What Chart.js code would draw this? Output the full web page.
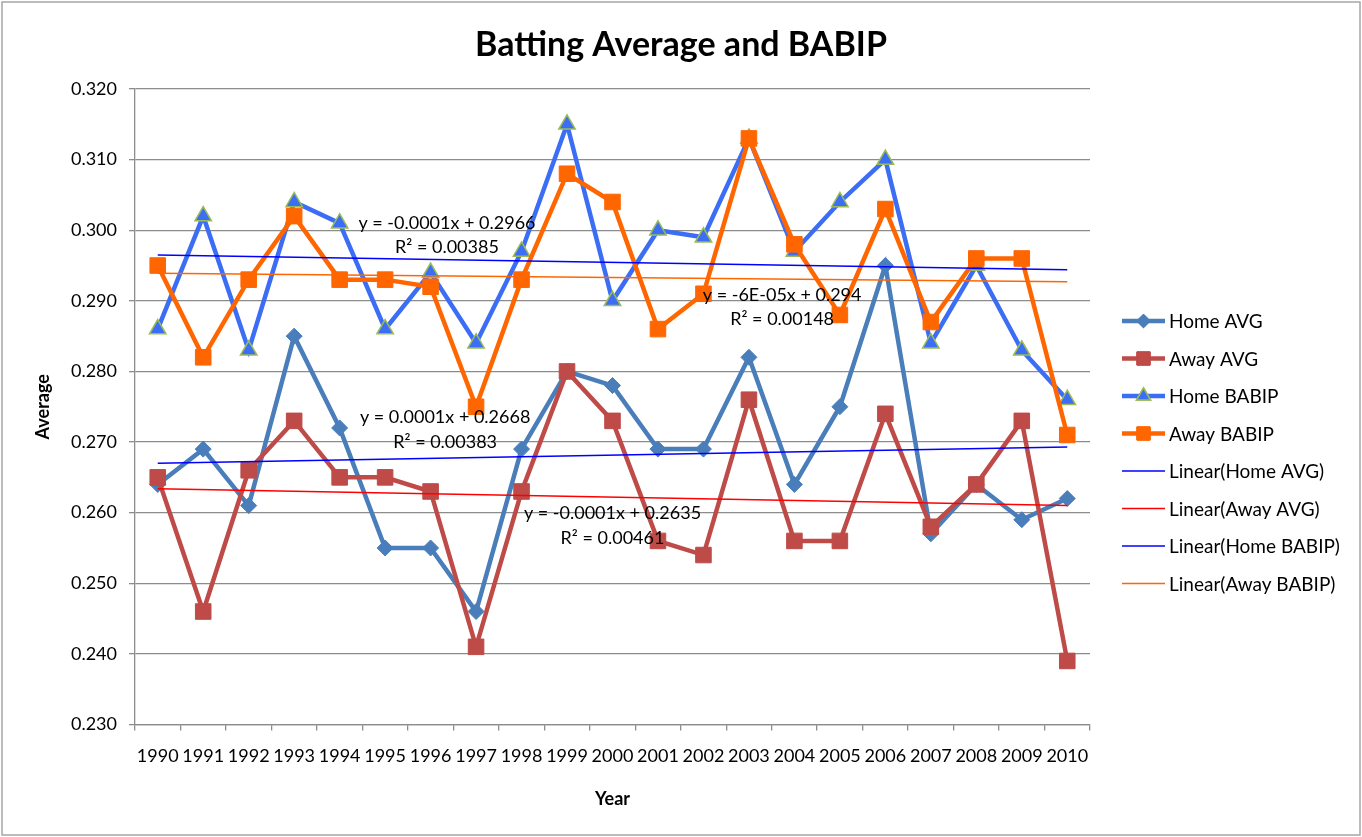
<!DOCTYPE html>
<html>
<head>
<meta charset="utf-8">
<script src="https://cdn.jsdelivr.net/npm/chart.js@4.4.1/dist/chart.umd.min.js"></script>
<style>
  html, body { margin: 0; padding: 0; background: #ffffff; }
  #wrap { width: 1362px; height: 837px; position: relative; }
</style>
</head>
<body>
<div id="wrap"><canvas id="c" width="1362" height="837"></canvas></div>
<script>
// ---- Data ----
const years = ['1990','1991','1992','1993','1994','1995','1996','1997','1998','1999','2000',
               '2001','2002','2003','2004','2005','2006','2007','2008','2009','2010'];
const homeAvg   = [0.264,0.269,0.261,0.285,0.272,0.255,0.255,0.246,0.269,0.280,0.278,
                   0.269,0.269,0.282,0.264,0.275,0.295,0.257,0.264,0.259,0.262];
const awayAvg   = [0.265,0.246,0.266,0.273,0.265,0.265,0.263,0.241,0.263,0.280,0.273,
                   0.256,0.254,0.276,0.256,0.256,0.274,0.258,0.264,0.273,0.239];
const homeBabip = [0.286,0.302,0.283,0.304,0.301,0.286,0.294,0.284,0.297,0.315,0.290,
                   0.300,0.299,0.313,0.297,0.304,0.310,0.284,0.295,0.283,0.276];
const awayBabip = [0.295,0.282,0.293,0.302,0.293,0.293,0.292,0.275,0.293,0.308,0.304,
                   0.286,0.291,0.313,0.298,0.288,0.303,0.287,0.296,0.296,0.271];
// trend line end values (first year, last year)
const trendHomeAvg   = [0.2670, 0.2693];
const trendAwayAvg   = [0.2634, 0.2610];
const trendHomeBabip = [0.2965, 0.2944];
const trendAwayBabip = [0.2939, 0.2927];
const yTicksMin = 0.230, yTicksMax = 0.320, yStep = 0.010;
const chartTitle = 'Batting Average and BABIP';
const equations = [
  ['y = -0.0001x + 0.2966', 'R² = 0.00385'],
  ['y = -6E-05x + 0.294',   'R² = 0.00148'],
  ['y = 0.0001x + 0.2668',  'R² = 0.00383'],
  ['y = -0.0001x + 0.2635', 'R² = 0.00461']
];
// label anchors (category index, value) for the equation texts
const eqAnchors = [[6.36, 0.3010], [13.73, 0.2908], [6.32, 0.2735], [10.0, 0.2599]];

function endsOnly(pair) {
  return years.map((_, i) => i === 0 ? pair[0] : (i === years.length - 1 ? pair[1] : null));
}

const FONT = 'Lato, "Open Sans", sans-serif';

const C_HOMEAVG = '#4A7EBB', C_AWAYAVG = '#BE4B48', C_HOMEBAB = '#3C6EF5', C_AWAYBAB = '#FF6600';

const datasets = [
  { label: 'Home AVG', data: homeAvg, borderColor: C_HOMEAVG, backgroundColor: C_HOMEAVG,
    borderWidth: 4.5, pointStyle: 'rectRot', pointRadius: 8, pointBorderWidth: 1,
    pointBackgroundColor: C_HOMEAVG, pointBorderColor: C_HOMEAVG, order: 4 },
  { label: 'Away AVG', data: awayAvg, borderColor: C_AWAYAVG, backgroundColor: C_AWAYAVG,
    borderWidth: 4.5, pointStyle: 'rect', pointRadius: 11, pointBorderWidth: 1,
    pointBackgroundColor: C_AWAYAVG, pointBorderColor: C_AWAYAVG, order: 3 },
  { label: 'Home BABIP', data: homeBabip, borderColor: C_HOMEBAB, backgroundColor: C_HOMEBAB,
    borderWidth: 4.5, pointStyle: 'triangle', pointRadius: 9.5, pointBorderWidth: 1.5,
    pointBackgroundColor: C_HOMEBAB, pointBorderColor: '#9BBB59', order: 2 },
  { label: 'Away BABIP', data: awayBabip, borderColor: C_AWAYBAB, backgroundColor: C_AWAYBAB,
    borderWidth: 4.5, pointStyle: 'rect', pointRadius: 11, pointBorderWidth: 1,
    pointBackgroundColor: C_AWAYBAB, pointBorderColor: C_AWAYBAB, order: 1 },
  { label: 'Linear(Home AVG)', data: endsOnly(trendHomeAvg), borderColor: '#0000FF',
    borderWidth: 1.5, pointRadius: 0, spanGaps: true, order: 0 },
  { label: 'Linear(Away AVG)', data: endsOnly(trendAwayAvg), borderColor: '#FF0000',
    borderWidth: 1.5, pointRadius: 0, spanGaps: true, order: 0 },
  { label: 'Linear(Home BABIP)', data: endsOnly(trendHomeBabip), borderColor: '#0000FF',
    borderWidth: 1.5, pointRadius: 0, spanGaps: true, order: 0 },
  { label: 'Linear(Away BABIP)', data: endsOnly(trendAwayBabip), borderColor: '#FF6600',
    borderWidth: 1.5, pointRadius: 0, spanGaps: true, order: 0 }
];

const borderTitlePlugin = {
  id: 'outerBorderTitle',
  beforeDraw(chart) {
    const ctx = chart.ctx;
    ctx.save();
    ctx.strokeStyle = '#A6A6A6';
    ctx.lineWidth = 1.5;
    ctx.strokeRect(2, 2, chart.width - 4, chart.height - 4);
    ctx.fillStyle = '#000';
    ctx.font = 'bold 34px ' + FONT;
    ctx.textAlign = 'center';
    ctx.textBaseline = 'middle';
    ctx.fillText(chartTitle, chart.width / 2, 45);
    ctx.restore();
  }
};

const eqPlugin = {
  id: 'equations',
  afterDatasetsDraw(chart) {
    const ctx = chart.ctx, xs = chart.scales.x, ys = chart.scales.y;
    ctx.save();
    ctx.font = '18px ' + FONT;
    ctx.fillStyle = '#000';
    ctx.textAlign = 'center';
    ctx.textBaseline = 'middle';
    equations.forEach((lines, i) => {
      const px = xs.getPixelForValue(eqAnchors[i][0]);
      const py = ys.getPixelForValue(eqAnchors[i][1]);
      ctx.fillText(lines[0], px, py);
      ctx.fillText(lines[1], px, py + 24.5);
    });
    ctx.restore();
  }
};

const legendPlugin = {
  id: 'customLegend',
  afterDraw(chart) {
    const ctx = chart.ctx, area = chart.chartArea;
    const x0 = area.right + 32, x1 = area.right + 75, tx = area.right + 79;
    let y = area.top + 232;
    ctx.save();
    chart.data.datasets.forEach(ds => {
      ctx.strokeStyle = ds.borderColor;
      ctx.lineWidth = ds.borderWidth;
      ctx.beginPath();
      ctx.moveTo(x0, y); ctx.lineTo(x1, y);
      ctx.stroke();
      if (ds.pointRadius > 0) {
        ctx.fillStyle = ds.pointBackgroundColor;
        ctx.strokeStyle = ds.pointBorderColor;
        ctx.lineWidth = ds.pointBorderWidth;
        Chart.helpers.drawPoint(ctx, { pointStyle: ds.pointStyle, radius: ds.pointRadius * 0.85,
          borderWidth: ds.pointBorderWidth, rotation: 0 }, (x0 + x1) / 2, y);
        ctx.fill();
        ctx.stroke();
      }
      ctx.fillStyle = '#000';
      ctx.font = '19px ' + FONT;
      ctx.textAlign = 'left';
      ctx.textBaseline = 'middle';
      ctx.fillText(ds.label, tx, y + 1);
      y += 37.5;
    });
    ctx.restore();
  }
};

new Chart(document.getElementById('c'), {
  type: 'line',
  data: { labels: years, datasets },
  plugins: [borderTitlePlugin, eqPlugin, legendPlugin],
  options: {
    responsive: false,
    animation: false,
    devicePixelRatio: 1,
    layout: { padding: { left: 0, right: 272, top: 89, bottom: 0 } },
    elements: { line: { tension: 0 } },
    plugins: {
      legend: { display: false },
      tooltip: { enabled: false },
      title: { display: false }
    },
    scales: {
      x: {
        type: 'category',
        offset: true,
        afterFit(scale) { scale.height = 112.5; },
        grid: { offset: true, drawOnChartArea: false, drawTicks: true, tickLength: 6,
                color: '#8C8C8C', lineWidth: 1.3 },
        border: { display: true, color: '#8C8C8C', width: 1.3 },
        ticks: { color: '#000', font: { family: FONT, size: 18 }, padding: 15,
                 autoSkip: false, maxRotation: 0, minRotation: 0 },
        title: { display: true, text: 'Year', color: '#000',
                 font: { family: FONT, size: 18, weight: 'bold', lineHeight: 1.2 },
                 padding: { top: 0, bottom: 27 } }
      },
      y: {
        min: yTicksMin, max: yTicksMax,
        afterFit(scale) { scale.width = 135; },
        grid: { color: '#8C8C8C', lineWidth: 1.3, tickLength: 6, drawTicks: true },
        border: { display: true, color: '#8C8C8C', width: 1.3 },
        ticks: { stepSize: yStep, color: '#000', font: { family: FONT, size: 18 }, padding: 12,
                 callback: v => v.toFixed(3) },
        title: { display: true, text: 'Average', color: '#000',
                 font: { family: FONT, size: 18, weight: 'bold', lineHeight: 1.2 },
                 padding: { top: 32, bottom: 0 } }
      }
    }
  }
});
</script>
</body>
</html>
